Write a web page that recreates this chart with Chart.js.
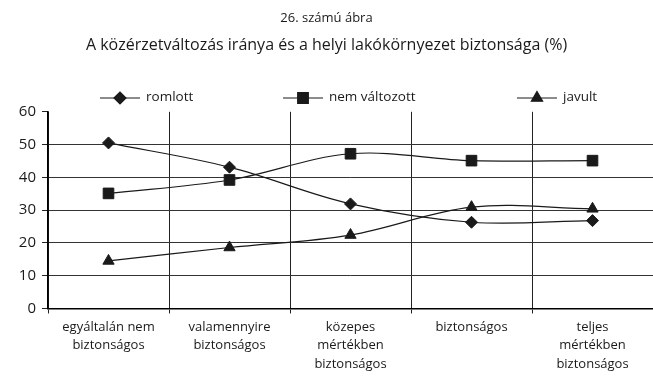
<!doctype html>
<html>
<head>
<meta charset="UTF-8">
<title>26. számú ábra</title>
<script src="https://cdn.jsdelivr.net/npm/chart.js@4/dist/chart.umd.min.js"></script>
<style>
	html, body { margin: 0; padding: 0; background: #fff; }
	#holder { width: 653px; height: 384px; }
</style>
</head>
<body>
<div id="holder"><canvas id="chart"></canvas></div>
<script>
	// adatok
	var categories = [
		['egyáltalán nem', 'biztonságos'],
		['valamennyire', 'biztonságos'],
		['közepes', 'mértékben', 'biztonságos'],
		['biztonságos'],
		['teljes', 'mértékben', 'biztonságos']
	];
	var seriesNames = ['romlott', 'nem változott', 'javult'];
	var romlott = [50.5, 43.1, 31.9, 26.3, 26.8];
	var nemValtozott = [35.1, 39.2, 47.2, 45.1, 45.1];
	var javult = [14.5, 18.6, 22.4, 30.9, 30.4];
	var yMax = 60;
	var yStep = 10;

	var FONT = '"Open Sans", "DejaVu Sans", sans-serif';
	var INK = '#1a1a1a';

	// jelmagyarázat: vonal + jelölő a közepén, utána a szöveg
	var lineLegend = {
		id: 'lineLegend',
		afterDraw: function (chart, args, opts) {
			var ctx = chart.ctx;
			ctx.save();
			chart.data.datasets.forEach(function (ds, i) {
				var x = opts.xs[i], y = opts.y, half = opts.lineHalf;
				ctx.strokeStyle = INK;
				ctx.lineWidth = 1.2;
				ctx.beginPath();
				ctx.moveTo(x - half, y);
				ctx.lineTo(x + half, y);
				ctx.stroke();
				ctx.fillStyle = INK;
				Chart.helpers.drawPoint(ctx, {
					pointStyle: ds.pointStyle,
					radius: ds.pointRadius,
					borderWidth: 1
				}, x, y);
				ctx.font = '13.5px ' + FONT;
				ctx.textBaseline = 'middle';
				ctx.textAlign = 'left';
				ctx.fillStyle = INK;
				ctx.fillText(ds.label, x + half + 6, y - 1);
			});
			ctx.restore();
		}
	};

	function makeSet(label, data, style, r) {
		return {
			label: label,
			data: data,
			borderColor: INK,
			borderWidth: 1.2,
			backgroundColor: INK,
			pointStyle: style,
			pointRadius: r,
			pointHoverRadius: r,
			pointBorderWidth: 1,
			pointBackgroundColor: INK,
			pointBorderColor: INK,
			tension: 0.35,
			fill: false
		};
	}

	var config = {
		type: 'line',
		data: {
			labels: categories,
			datasets: [
				makeSet(seriesNames[0], romlott, 'rectRot', 6),
				makeSet(seriesNames[1], nemValtozott, 'rect', 7.5),
				makeSet(seriesNames[2], javult, 'triangle', 6.5)
			]
		},
		plugins: [lineLegend],
		options: {
			responsive: true,
			maintainAspectRatio: false,
			animation: false,
			layout: { autoPadding: false, padding: { left: 0, right: 0, top: 0, bottom: 6 } },
			plugins: {
				legend: { display: false },
				tooltip: { enabled: false },
				title: {
					display: true,
					text: '26. számú ábra',
					color: INK,
					font: { family: FONT, size: 13, weight: 'normal' },
					padding: { top: 10, bottom: 10 }
				},
				subtitle: {
					display: true,
					text: 'A közérzetváltozás iránya és a helyi lakókörnyezet biztonsága (%)',
					color: INK,
					font: { family: FONT, size: 16, weight: 'normal' },
					padding: { top: 0, bottom: 57 }
				},
				lineLegend: { xs: [120, 303, 537], y: 98, lineHalf: 20 }
			},
			scales: {
				x: {
					offset: true,
					afterFit: function (scale) { scale.paddingLeft = 0; scale.paddingRight = 0; },
					grid: {
						offset: true,
						color: '#222',
						lineWidth: 1,
						tickLength: 5,
						drawTicks: true
					},
					border: { display: true, color: '#000', width: 1.6 },
					ticks: {
						color: INK,
						maxRotation: 0,
						autoSkip: false,
						padding: 4,
						font: { family: FONT, size: 13, lineHeight: 1.45 }
					}
				},
				y: {
					min: 0,
					max: yMax,
					afterFit: function (scale) { scale.width = 48; },
					grid: {
						color: function (c) { return c.tick && c.tick.value === yMax ? 'rgba(0,0,0,0)' : '#333'; },
						tickColor: '#222',
						lineWidth: 1,
						tickLength: 6
					},
					border: { display: true, color: '#000', width: 1.6 },
					ticks: {
						stepSize: yStep,
						color: INK,
						padding: 6,
						font: { family: FONT, size: 15 }
					}
				}
			}
		}
	};

	new Chart(document.getElementById('chart').getContext('2d'), config);
</script>
</body>
</html>
